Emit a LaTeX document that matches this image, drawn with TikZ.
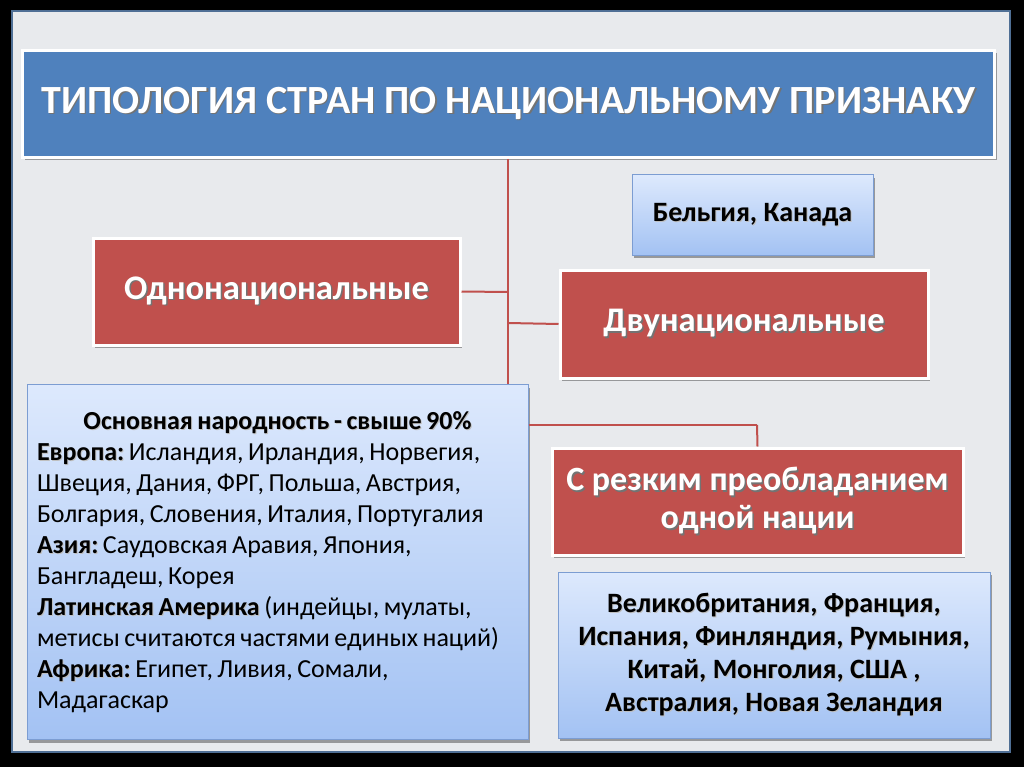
\documentclass[tikz,border=0pt]{standalone}
\usepackage{fontspec}
\setmainfont{Carlito}
\usetikzlibrary{shadows}
\definecolor{redfill}{HTML}{C0504D}
\definecolor{bluefill}{HTML}{4F81BD}
\definecolor{lbtop}{HTML}{DDE9FD}
\definecolor{lbbot}{HTML}{A3C2F3}
\definecolor{lbdraw}{HTML}{7C9DD2}
\definecolor{linered}{HTML}{C0504D}
\definecolor{slidebg}{HTML}{E8EAED}
\definecolor{slideedge}{HTML}{4F6F95}
\newcommand\wsh[1]{\leavevmode\rlap{\hspace{1.5pt}\raisebox{-1.5pt}{\color{black!55}#1}}#1}
\newcommand\bsh[1]{\leavevmode\rlap{\hspace{1pt}\raisebox{-1pt}{\color{black!25}#1}}#1}
\newcommand\tightsp{\spaceskip=4.5pt plus 1pt minus 1pt\relax}
\tikzset{
  shad/.style={drop shadow={shadow xshift=2pt,shadow yshift=-3pt,opacity=0.35,fill=black}},
  redbox/.style={shad,fill=redfill,draw=white,line width=3pt,text=white,align=center,inner sep=0pt},
  titlebox/.style={shad,fill=bluefill,draw=white,line width=3pt,text=white,align=center,inner sep=0pt},
  lbbox/.style={shad,top color=lbtop,bottom color=lbbot,draw=lbdraw,line width=1pt,text=black,inner sep=0pt},
  conn/.style={draw=linered,line width=2pt},
}
\begin{document}
\begin{tikzpicture}[x=1pt,y=-1pt]
\useasboundingbox (0,0) rectangle (1024,767);
\fill[black] (0,0) rectangle (1024,767);
\fill[slidebg,draw=slideedge,line width=2pt] (12,11) rectangle (1010,752);
% title
\node[titlebox,minimum width=972,minimum height=107,font=\fontsize{40}{44}\selectfont\bfseries] (title) at (508.5,104)
  {\wsh{ТИПОЛОГИЯ СТРАН ПО НАЦИОНАЛЬНОМУ ПРИЗНАКУ}};
% branch coordinates
\coordinate (lj) at (508,292);
\coordinate (rj) at (508,323);
\coordinate (bj) at (757,425);
% left group box
\node[lbbox,minimum width=501,minimum height=355,text width=481,align=left,font=\fontsize{26}{31}\selectfont] (ltxt) at (277.5,562)
  {\tightsp\makebox[481pt]{\bfseries\bsh{Основная народность - свыше 90\%}}\\
  \textbf{\bsh{Европа:}}~Исландия, Ирландия, Норвегия,\\
  \makebox[0pt][l]{Швеция, Дания, ФРГ, Польша, Австрия,}\\
  \makebox[0pt][l]{Болгария, Словения, Италия, Португалия}\\
  \textbf{\bsh{Азия:}}~Саудовская Аравия, Япония,\\
  Бангладеш, Корея\\
  \textbf{\bsh{Латинская Америка}}~(индейцы, мулаты,\\
  \makebox[0pt][l]{метисы считаются частями единых наций)}\\
  \textbf{\bsh{Африка:}}~Египет, Ливия, Сомали,\\
  Мадагаскар};
% connectors
\draw[conn] (title.south -| lj) -- (lj);
\draw[conn] (lj) -- (rj);
\draw[conn] (rj) -- (ltxt.north -| rj);
\draw[conn] (ltxt.east |- bj) -- (bj);
% boxes
\node[redbox,minimum width=367,minimum height=107,font=\fontsize{34.5}{40}\selectfont\bfseries] (mono) at (276.5,291.5)
  {\wsh{Однонациональные}};
\node[lbbox,minimum width=241,minimum height=80,align=center,font=\fontsize{28}{32}\selectfont\bfseries] (bel) at (752.5,215)
  {\bsh{Бельгия, Канада}};
\node[redbox,minimum width=368,minimum height=108,font=\fontsize{34.5}{40}\selectfont\bfseries] (bi) at (744,324)
  {\wsh{Двунациональные}};
\node[redbox,minimum width=411,minimum height=107,font=\fontsize{34}{38}\selectfont\bfseries] (dom) at (757.5,501.5)
  {\wsh{С резким преобладанием}\\\wsh{одной нации}};
\node[lbbox,minimum width=432,minimum height=166,align=center,font=\fontsize{28}{33}\selectfont\bfseries] (domtxt) at (774,655)
  {\bsh{Великобритания, Франция,}\\
  \bsh{Испания, Финляндия, Румыния,}\\
  \bsh{Китай, Монголия, США ,}\\
  \bsh{Австралия, Новая Зеландия}};
\draw[conn] (lj) -- (mono.east);
\draw[conn] (rj) -- (bi.west);
\draw[conn] (bj) -- (dom.north);
\end{tikzpicture}
\end{document}
